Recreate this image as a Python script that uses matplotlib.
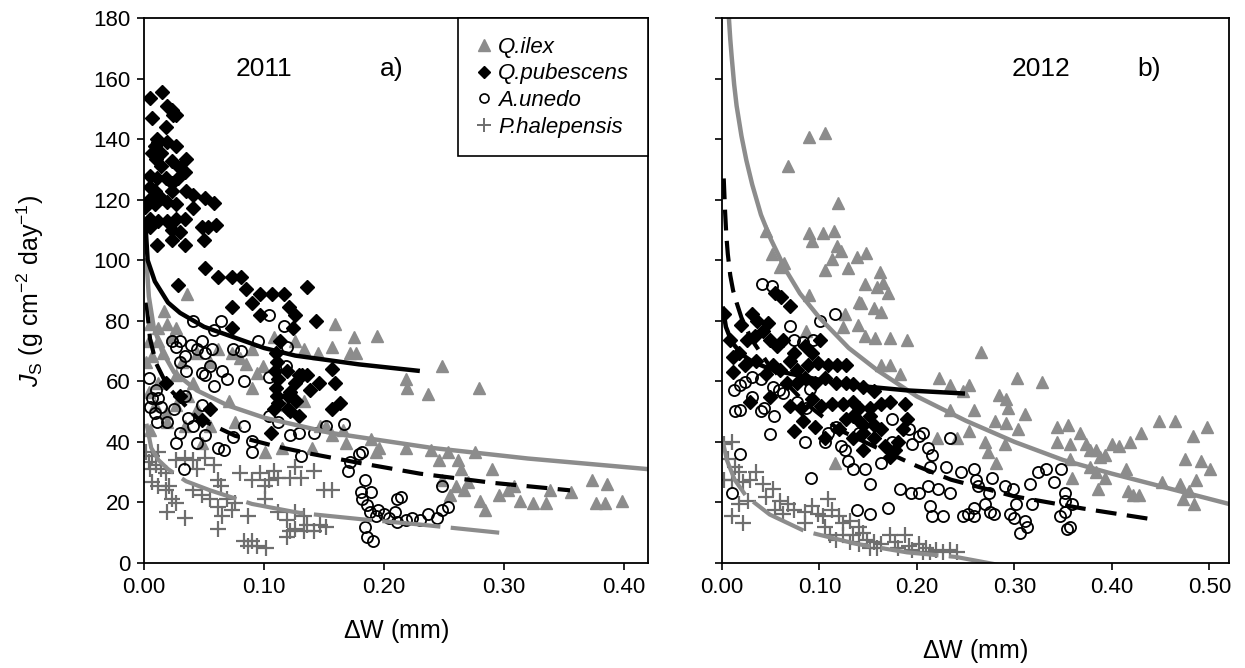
import matplotlib
matplotlib.use("Agg")
import matplotlib.pyplot as plt
from matplotlib.lines import Line2D

plt.rcParams['font.family'] = ['Liberation Sans', 'DejaVu Sans']
plt.rcParams['mathtext.fontset'] = 'custom'
plt.rcParams['mathtext.rm'] = 'Liberation Sans'
plt.rcParams['mathtext.it'] = 'Liberation Sans:italic'

species = ['Q.ilex', 'Q.pubescens', 'A.unedo', 'P.halepensis']

# ---- 2011 (panel a): (dW, Js) pairs ----
qilex_2011 = [
    (0.036, 89), (0.017, 83.3), (0.005, 79), (0.012, 77.7), (0.019, 79), (0.027, 77.7),
    (0.004, 73.4), (0.012, 73.4), (0.023, 74.8), (0.002, 66.4), (0.007, 68.5), (0.016, 69.2),
    (0.032, 66.4), (0.044, 69.2), (0.055, 66.4), (0.062, 70.6), (0.073, 69.2), (0.08, 67.8),
    (0.085, 65.6), (0.094, 62.8), (0.099, 64.9), (0.09, 70.6), (0.108, 74.8), (0.126, 73.4),
    (0.133, 70.6), (0.145, 69.2), (0.159, 79), (0.157, 71.3), (0.172, 69.2), (0.175, 74.8),
    (0.177, 69.2), (0.194, 75.1), (0.218, 60.7), (0.219, 57.9), (0.237, 55.8), (0.248, 64.9),
    (0.279, 57.9), (0.012, 59.3), (0.027, 62.1), (0.041, 59.3), (0.071, 53.6), (0.09, 57.9),
    (0.119, 52.2), (0.133, 53.6), (0.152, 45.2), (0.147, 45.2), (0.157, 42.4), (0.168, 39.5),
    (0.166, 43.8), (0.189, 40.9), (0.193, 36.7), (0.196, 38.1), (0.218, 38.1), (0.239, 37.4),
    (0.246, 33.9), (0.253, 36.7), (0.262, 33.9), (0.264, 31), (0.276, 36.7), (0.29, 31),
    (0.005, 43.8), (0.019, 46.6), (0.034, 45.2), (0.048, 39.5), (0.076, 46.6), (0.101, 36.7),
    (0.115, 38.1), (0.14, 38.1), (0.248, 27.5), (0.255, 22.6), (0.26, 25.4), (0.267, 24),
    (0.27, 26.8), (0.28, 20.5), (0.284, 17.6), (0.296, 22.6), (0.303, 24), (0.308, 25.4),
    (0.313, 20.5), (0.324, 19.8), (0.335, 19.8), (0.338, 24), (0.356, 23.3), (0.373, 27.5),
    (0.377, 19.8), (0.384, 19.8), (0.386, 26.1), (0.398, 20.5), (0.004, 56.5), (0.009, 52.2),
    (0.018, 49.4), (0.027, 52.2), (0.037, 55), (0.044, 50.8), (0.055, 45.2),
]
qpub_2011 = [
    (0.005, 153.5), (0.015, 155.6), (0.019, 151), (0.023, 149.6), (0.027, 148), (0.024, 147.8),
    (0.007, 146.8), (0.018, 144), (0.011, 140), (0.009, 137.6), (0.012, 139), (0.014, 135.5),
    (0.019, 139), (0.027, 137.6), (0.035, 133.4), (0.007, 135.5), (0.01, 133.4), (0.014, 131),
    (0.023, 132.7), (0.03, 130.6), (0.034, 129), (0.005, 127.8), (0.011, 127), (0.018, 127),
    (0.023, 125.6), (0.028, 127), (0.005, 124.2), (0.009, 122.8), (0.004, 120), (0.014, 120.7),
    (0.023, 122.8), (0.035, 122.8), (0.041, 121.4), (0.051, 120.7), (0.058, 118.9), (0.001, 117.5),
    (0.009, 118.6), (0.019, 119.3), (0.027, 118.6), (0.041, 117.2), (0.005, 113.6), (0.012, 113),
    (0.019, 113), (0.027, 113.6), (0.034, 113.6), (0.005, 110.8), (0.023, 110), (0.03, 109.4),
    (0.048, 110.8), (0.053, 110.8), (0.06, 111.5), (0.011, 105), (0.023, 106.6), (0.034, 105),
    (0.05, 106.6), (0.051, 97.4), (0.062, 94.6), (0.028, 91.8), (0.073, 94.6), (0.081, 94.6),
    (0.085, 90.4), (0.073, 84.7), (0.09, 86), (0.097, 89), (0.097, 81.9), (0.107, 89),
    (0.117, 89), (0.121, 84.7), (0.136, 91), (0.126, 81.9), (0.124, 77.7), (0.143, 79.8),
    (0.073, 77.7), (0.11, 69.2), (0.111, 66.4), (0.109, 63.5), (0.112, 60.7), (0.11, 57.9),
    (0.111, 55), (0.112, 53), (0.108, 50.8), (0.113, 73.4), (0.12, 55), (0.122, 56.5),
    (0.126, 59.3), (0.129, 62.1), (0.132, 62.1), (0.122, 50.1), (0.129, 48.7), (0.12, 50.8),
    (0.127, 53.6), (0.106, 43), (0.146, 59.3), (0.157, 64.2), (0.159, 59.3), (0.157, 50.8),
    (0.163, 53), (0.136, 62.1), (0.138, 57.2), (0.119, 63.5), (0.018, 59.3), (0.03, 55),
    (0.048, 47.3), (0.055, 50.8),
]
aunedo_2011 = [
    (0.004, 61), (0.005, 51.5), (0.01, 57.2), (0.012, 54.4), (0.014, 51.5), (0.007, 54.4),
    (0.009, 49.4), (0.011, 46.6), (0.03, 73.4), (0.023, 73.4), (0.027, 71.3), (0.034, 68.5),
    (0.03, 66.4), (0.035, 63.5), (0.041, 79.8), (0.039, 72), (0.044, 70.6), (0.048, 73.4),
    (0.051, 69.2), (0.057, 70.6), (0.064, 79.8), (0.058, 76.9), (0.055, 64.9), (0.048, 62.8),
    (0.051, 62.1), (0.058, 58.6), (0.065, 63.5), (0.069, 60.7), (0.074, 70.6), (0.081, 69.9),
    (0.083, 60), (0.095, 73.4), (0.104, 81.9), (0.117, 78.4), (0.119, 71.3), (0.104, 61.4),
    (0.118, 64.9), (0.019, 46.6), (0.025, 50.8), (0.034, 55), (0.037, 48), (0.041, 45.2),
    (0.044, 39.5), (0.048, 52.2), (0.051, 42.4), (0.062, 38.1), (0.067, 37.4), (0.074, 41.6),
    (0.083, 45.2), (0.09, 40.2), (0.09, 36.7), (0.03, 43), (0.027, 39.5), (0.033, 31),
    (0.104, 48.7), (0.112, 46.6), (0.122, 42.4), (0.129, 43), (0.142, 43), (0.152, 45.2),
    (0.167, 45.9), (0.131, 35.3), (0.17, 30.4), (0.172, 33.2), (0.179, 36), (0.182, 36.7),
    (0.184, 27.5), (0.181, 23.3), (0.182, 21.2), (0.186, 19.1), (0.189, 23.3), (0.188, 16.9),
    (0.193, 15.5), (0.184, 12), (0.186, 8.5), (0.191, 7.1), (0.195, 17.6), (0.2, 16.2),
    (0.204, 14.8), (0.209, 16.9), (0.211, 13.4), (0.211, 21.2), (0.214, 21.9), (0.218, 14.1),
    (0.223, 14.8), (0.23, 14.1), (0.237, 16.2), (0.244, 14.8), (0.248, 17.6), (0.253, 18.4),
    (0.248, 25.4),
]
phal_2011 = [
    (0.002, 36.7), (0.007, 35.3), (0.012, 36.7), (0.01, 32.5), (0.014, 31), (0.005, 31),
    (0.018, 29.6), (0.012, 25.4), (0.018, 24), (0.021, 25.4), (0.023, 21.2), (0.027, 19.8),
    (0.019, 16.9), (0.034, 14.8), (0.027, 33.9), (0.034, 34.6), (0.041, 33.9), (0.051, 34.6),
    (0.044, 31), (0.058, 32.5), (0.041, 24), (0.048, 22.6), (0.055, 21.2), (0.062, 27.5),
    (0.064, 25.4), (0.069, 21.2), (0.062, 18.4), (0.065, 15.5), (0.062, 11.3), (0.073, 17.6),
    (0.076, 19.8), (0.08, 29.6), (0.087, 15.5), (0.09, 27.5), (0.097, 29.6), (0.101, 25.4),
    (0.104, 27.5), (0.108, 30.4), (0.112, 28.2), (0.122, 28.2), (0.126, 31.8), (0.131, 28.2),
    (0.142, 30.4), (0.101, 21.2), (0.112, 16.9), (0.119, 14.1), (0.126, 16.9), (0.126, 11.3),
    (0.133, 15.5), (0.136, 12.7), (0.147, 12.7), (0.15, 24), (0.157, 24), (0.119, 8.5),
    (0.122, 10.6), (0.083, 7.1), (0.087, 5.6), (0.09, 7.1), (0.094, 5.6), (0.102, 4.9),
    (0.142, 10.6), (0.133, 10.6), (0.152, 12), (0.007, 26.8), (0.004, 33.2),
]

# ---- 2012 (panel b) ----
qilex_2012 = [
    (0.089, 140.6), (0.106, 142), (0.068, 131.2), (0.119, 118.9), (0.045, 109.5), (0.051, 102.2),
    (0.089, 109), (0.092, 106.2), (0.104, 109), (0.115, 109.8), (0.118, 104.6), (0.122, 103.2),
    (0.113, 100.4), (0.106, 96.8), (0.129, 97.5), (0.138, 101), (0.148, 102.5), (0.06, 97.8),
    (0.064, 99.2), (0.141, 86.3), (0.143, 85.9), (0.147, 92.2), (0.162, 96.1), (0.159, 91.2),
    (0.165, 92.6), (0.17, 89.1), (0.156, 84.2), (0.163, 82.8), (0.126, 82.1), (0.14, 78.6),
    (0.147, 75.1), (0.157, 74.4), (0.172, 74.4), (0.19, 73.7), (0.089, 88.4), (0.086, 76.5),
    (0.124, 77.9), (0.266, 69.8), (0.163, 65.3), (0.172, 65.3), (0.183, 62.5), (0.223, 61.1),
    (0.234, 58.9), (0.253, 58.9), (0.247, 56.8), (0.303, 61.1), (0.328, 59.9), (0.234, 50.5),
    (0.259, 50.5), (0.284, 55.4), (0.291, 54), (0.293, 51.2), (0.28, 47), (0.291, 46.3),
    (0.311, 49.1), (0.304, 44.2), (0.29, 39.3), (0.27, 40), (0.253, 43.5), (0.221, 41.4),
    (0.241, 41.4), (0.281, 33), (0.273, 36.5), (0.344, 44.9), (0.355, 45.6), (0.344, 40),
    (0.357, 39.3), (0.357, 34.4), (0.367, 42.8), (0.373, 39.3), (0.377, 37.2), (0.384, 37.2),
    (0.388, 35.1), (0.393, 35.8), (0.4, 39.3), (0.407, 38.6), (0.419, 40), (0.43, 42.8),
    (0.448, 47), (0.465, 47), (0.498, 44.9), (0.483, 42.1), (0.377, 31.6), (0.384, 30.2),
    (0.393, 28.1), (0.414, 30.9), (0.386, 24.6), (0.416, 23.9), (0.422, 22.5), (0.428, 22.5),
    (0.451, 26.7), (0.473, 21.1), (0.475, 34.4), (0.484, 19.6), (0.491, 33.7), (0.501, 30.9),
    (0.47, 26), (0.479, 23.9), (0.486, 27.4), (0.116, 33), (0.359, 28.1),
]
qpub_2012 = [
    (0.002, 82.1), (0.008, 73.7), (0.02, 78.6), (0.031, 82.1), (0.036, 80), (0.047, 79.3),
    (0.054, 89.1), (0.061, 87.7), (0.07, 84.9), (0.026, 73.7), (0.034, 75.1), (0.042, 76.5),
    (0.049, 73.7), (0.056, 71.6), (0.063, 73.7), (0.074, 69.5), (0.085, 71.6), (0.092, 69.5),
    (0.101, 73.7), (0.011, 63.2), (0.024, 65.3), (0.035, 66.7), (0.045, 62.5), (0.052, 65.3),
    (0.06, 63.9), (0.07, 66.7), (0.077, 63.9), (0.088, 65.3), (0.099, 66), (0.109, 65.3),
    (0.118, 65.3), (0.127, 65.3), (0.067, 59.6), (0.077, 59.6), (0.085, 61.1), (0.095, 59.6),
    (0.106, 61.1), (0.117, 59.6), (0.127, 59.6), (0.134, 59), (0.145, 58.2), (0.156, 56.8),
    (0.029, 53.3), (0.049, 54.7), (0.07, 51.9), (0.081, 51.2), (0.092, 54), (0.102, 51.9),
    (0.113, 52.6), (0.124, 52.6), (0.134, 53.3), (0.141, 51.2), (0.152, 51.2), (0.163, 52.6),
    (0.172, 53.3), (0.188, 52.6), (0.19, 47.7), (0.074, 43.5), (0.083, 47), (0.095, 44.9),
    (0.106, 41.4), (0.12, 44.2), (0.127, 47.7), (0.134, 48.4), (0.141, 47), (0.145, 45.6),
    (0.152, 48.4), (0.156, 45.6), (0.163, 44.2), (0.134, 41.4), (0.145, 42.8), (0.156, 41.4),
    (0.167, 38.6), (0.172, 35.1), (0.177, 37.2), (0.181, 40), (0.186, 44.2), (0.145, 37.2),
    (0.011, 68.1), (0.017, 69.5),
]
aunedo_2012 = [
    (0.041, 92.2), (0.051, 91.6), (0.07, 78.2), (0.101, 80), (0.116, 82.1), (0.074, 73.7),
    (0.083, 73), (0.093, 73.7), (0.012, 57.1), (0.019, 58.9), (0.024, 59.9), (0.031, 61.3),
    (0.04, 60.6), (0.052, 58.2), (0.058, 57.1), (0.013, 50.1), (0.019, 50.5), (0.04, 50.1),
    (0.043, 51.2), (0.053, 48.4), (0.031, 54.7), (0.049, 42.5), (0.086, 51.2), (0.085, 40),
    (0.09, 57.5), (0.077, 53.3), (0.063, 56.1), (0.106, 40), (0.109, 42.8), (0.117, 44.9),
    (0.122, 38.6), (0.126, 37.2), (0.129, 33.7), (0.134, 30.9), (0.147, 30.9), (0.141, 42.8),
    (0.152, 26), (0.163, 33), (0.174, 47.7), (0.174, 40), (0.192, 44.2), (0.195, 39.3),
    (0.202, 42.1), (0.206, 42.8), (0.211, 37.9), (0.215, 35.8), (0.213, 31.6), (0.183, 24.6),
    (0.194, 23.2), (0.202, 23.2), (0.211, 25.3), (0.222, 24.6), (0.234, 41.4), (0.23, 31.6),
    (0.245, 30.2), (0.234, 23.2), (0.259, 30.9), (0.261, 27.4), (0.263, 25.3), (0.274, 23.2),
    (0.277, 28.1), (0.29, 25.3), (0.298, 24.6), (0.316, 26), (0.318, 19.6), (0.324, 30.2),
    (0.332, 30.9), (0.348, 30.9), (0.341, 26.7), (0.352, 23.2), (0.213, 18.9), (0.227, 15.4),
    (0.215, 15.4), (0.17, 18.2), (0.152, 16.1), (0.139, 17.5), (0.091, 28.1), (0.019, 36.1),
    (0.01, 23.2), (0.247, 15.4), (0.252, 16.1), (0.259, 18.2), (0.258, 15.4), (0.27, 19.6),
    (0.275, 16.8), (0.279, 16.1), (0.295, 16.1), (0.3, 14.7), (0.306, 9.8), (0.311, 14),
    (0.313, 11.9), (0.302, 19.6), (0.347, 15.4), (0.352, 16.8), (0.354, 11.2), (0.357, 11.9),
    (0.359, 19.6), (0.352, 20.4),
]
phal_2012 = [
    (0.002, 39.3), (0.01, 40), (0.006, 34.4), (0.013, 31.6), (0.002, 27.4), (0.01, 27.4),
    (0.017, 30.2), (0.022, 26.7), (0.029, 27.4), (0.035, 30.2), (0.01, 15.4), (0.022, 13.3),
    (0.017, 19.6), (0.027, 20.4), (0.042, 26), (0.045, 21.8), (0.052, 24.6), (0.06, 20.4),
    (0.054, 17.5), (0.063, 16.1), (0.068, 19.6), (0.074, 17.5), (0.085, 16.8), (0.092, 18.9),
    (0.099, 16.1), (0.104, 15.4), (0.109, 21.1), (0.113, 17.5), (0.12, 15.4), (0.124, 13.3),
    (0.131, 14), (0.111, 9.1), (0.117, 7.7), (0.124, 9.1), (0.131, 7), (0.134, 9.1),
    (0.141, 6.3), (0.145, 9.8), (0.149, 7.7), (0.152, 4.9), (0.156, 7), (0.159, 4.9),
    (0.163, 6.3), (0.172, 9.1), (0.177, 7), (0.181, 4.9), (0.188, 9.1), (0.192, 5.6),
    (0.195, 4.2), (0.202, 6.3), (0.206, 3.5), (0.209, 4.9), (0.213, 3.5), (0.22, 4.2),
    (0.227, 3.5), (0.234, 4.2), (0.241, 3.5), (0.106, 11.9), (0.085, 13.3), (0.141, 11.9),
]

# ---- fitted curves, points ----
fit_qilex_2011 = [(0.002, 100), (0.004, 88), (0.008, 78), (0.015, 70), (0.025, 63), (0.044, 57),
                  (0.07, 52), (0.1, 48), (0.155, 43), (0.24, 38), (0.32, 34.5), (0.42, 31)]
fit_qpub_2011 = [(0.001, 113), (0.003, 100), (0.009, 93), (0.02, 86), (0.03, 82.6), (0.05, 78),
                 (0.073, 74.8), (0.1, 71), (0.126, 68.5), (0.179, 65.6), (0.228, 63.5)]
fit_aunedo_2011 = [(0.002, 86), (0.005, 74), (0.01, 66), (0.02, 58), (0.044, 48), (0.076, 42),
                   (0.11, 38.5), (0.14, 36), (0.18, 33), (0.23, 29.5), (0.29, 26.5), (0.355, 24)]
fit_phal_2011 = [(0.002, 46), (0.006, 38), (0.012, 34), (0.02, 31), (0.035, 27), (0.055, 24),
                 (0.09, 19.5), (0.13, 16.5), (0.18, 14.5), (0.23, 12.7), (0.296, 10)]

fit_qilex_2012 = [(0.0071, 180), (0.0085, 173), (0.01, 167), (0.0125, 158), (0.015, 151),
                  (0.02, 141), (0.025, 133), (0.031, 125), (0.04, 115), (0.05, 107), (0.065, 97),
                  (0.08, 89), (0.1, 81), (0.13, 71), (0.16, 63.5), (0.2, 55), (0.25, 47),
                  (0.3, 40), (0.35, 34), (0.4, 29.5), (0.46, 24.5), (0.52, 19.5)]
fit_qpub_2012 = [(0.001, 84), (0.004, 78), (0.01, 73), (0.02, 69), (0.031, 66.5), (0.05, 64),
                 (0.07, 62.5), (0.1, 60.5), (0.14, 58.5), (0.19, 57), (0.247, 56)]
fit_aunedo_2012 = [(0.0018, 127), (0.0032, 116), (0.0045, 108), (0.006, 102), (0.0085, 95),
                   (0.0114, 90), (0.015, 86), (0.02, 81), (0.03, 74), (0.049, 65), (0.085, 53),
                   (0.12, 44), (0.156, 38.5), (0.2, 32), (0.235, 27.5), (0.3, 22), (0.37, 18),
                   (0.44, 14.5)]
fit_phal_2012 = [(0.001, 40), (0.005, 34), (0.013, 27.5), (0.025, 22), (0.049, 16), (0.085, 10.5),
                 (0.138, 6.3), (0.19, 3.5), (0.24, 2), (0.29, -1)]

GRAY = '#8c8c8c'
DGRAY = '#6e6e6e'


def xy(pairs):
    return [p[0] for p in pairs], [p[1] for p in pairs]


def draw_panel(ax, pts, fits, xmax, year, tag, year_x, tag_x):
    qi, qp, au, ph = pts
    ax.plot(*xy(qi), ls='none', marker='^', ms=9, color=GRAY, mec=GRAY)
    ax.plot(*xy(ph), ls='none', marker='+', ms=11, mew=1.6, color=DGRAY)
    ax.plot(*xy(au), ls='none', marker='o', ms=8, mfc='none', mec='black', mew=1.3)
    ax.plot(*xy(qp), ls='none', marker='D', ms=7, color='black')

    fqi, fqp, fau, fph = fits
    ax.plot(*xy(fph), color=GRAY, lw=3, ls=(0, (14, 2.5)))
    ax.plot(*xy(fau), color='black', lw=3, ls=(0, (5, 2.5)))
    ax.plot(*xy(fqi), color=GRAY, lw=3.2)
    ax.plot(*xy(fqp), color='black', lw=3.2)

    ax.set_xlim(0, xmax)
    ax.set_ylim(0, 180)
    ax.set_yticks(range(0, 181, 20))
    ax.tick_params(direction='out', length=5, width=1.2, labelsize=16, colors='black', pad=5)
    for s in ax.spines.values():
        s.set_linewidth(1.3)
    ax.text(year_x, 163, year, fontsize=19, ha='center', va='center')
    ax.text(tag_x, 163, tag, fontsize=19, ha='center', va='center')


fig = plt.figure(figsize=(12.45, 6.68), dpi=100)
ax1 = fig.add_axes([0.1157, 0.1572, 0.4048, 0.8159])
ax2 = fig.add_axes([0.5799, 0.1572, 0.4072, 0.8159])

draw_panel(ax1, (qilex_2011, qpub_2011, aunedo_2011, phal_2011),
           (fit_qilex_2011, fit_qpub_2011, fit_aunedo_2011, fit_phal_2011),
           0.42, '2011', 'a)', 0.10, 0.206)
draw_panel(ax2, (qilex_2012, qpub_2012, aunedo_2012, phal_2012),
           (fit_qilex_2012, fit_qpub_2012, fit_aunedo_2012, fit_phal_2012),
           0.52, '2012', 'b)', 0.327, 0.438)

ax1.set_xticks([0, 0.1, 0.2, 0.3, 0.4])
ax1.set_xticklabels(['0.00', '0.10', '0.20', '0.30', '0.40'])
ax2.set_xticks([0, 0.1, 0.2, 0.3, 0.4, 0.5])
ax2.set_xticklabels(['0.00', '0.10', '0.20', '0.30', '0.40', '0.50'])
ax2.set_yticklabels([])

ax1.set_xlabel(r'$\mathit{\Delta}$W (mm)', fontsize=18, labelpad=14)
ax2.set_xlabel(r'$\mathit{\Delta}$W (mm)', fontsize=18, labelpad=28)
ax1.set_ylabel(r'$J_{\mathrm{S}}$ (g cm$^{-2}$ day$^{-1}$)', fontsize=18, labelpad=34)

handles = [
    Line2D([], [], ls='none', marker='^', ms=8, color=GRAY),
    Line2D([], [], ls='none', marker='D', ms=6, color='black'),
    Line2D([], [], ls='none', marker='o', ms=6.5, mfc='none', mec='black', mew=1.2),
    Line2D([], [], ls='none', marker='+', ms=10, mew=1.4, color=DGRAY),
]
leg = ax1.legend(handles, species, loc='upper right', borderaxespad=0, fancybox=False,
                 edgecolor='black', framealpha=1, handlelength=0.6, handletextpad=0.35,
                 prop={'style': 'italic', 'size': 16}, labelspacing=0.25, borderpad=0.85)
leg.get_frame().set_linewidth(1.2)

fig.savefig('out.png', dpi=100)
